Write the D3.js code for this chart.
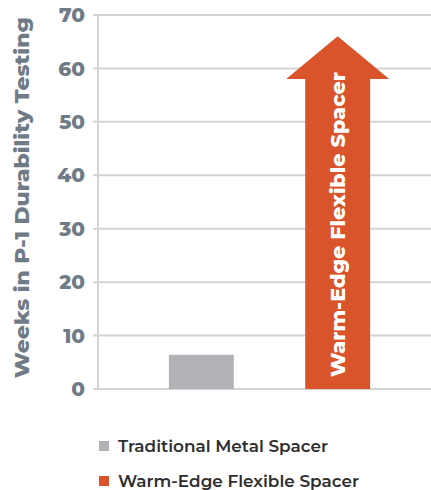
<!DOCTYPE html>
<html><head><meta charset="utf-8">
<script src="https://cdn.jsdelivr.net/npm/d3@7"></script>
<style>
html,body{margin:0;padding:0;background:#fff;}
svg{display:block;}
</style></head>
<body>
<script>
const categories = ["Traditional Metal Spacer", "Warm-Edge Flexible Spacer"];
const values = [6.4, 66];
const arrowHeadBase = 58;
const yTicks = [0, 10, 20, 30, 40, 50, 60, 70];
const colors = ["#b1b2b6", "#d9532b"];
const yLabel = "Weeks in P-1 Durability Testing";

const W = 431, H = 490;
const svg = d3.select("body").append("svg").attr("width", W).attr("height", H);

const x = d3.scaleBand().domain(categories).range([98, 441]).paddingInner(0.524).paddingOuter(0.52);
const y = d3.scaleLinear().domain([0, 70]).range([389, 15]);

const font = "Montserrat, 'Open Sans', Lato, sans-serif";

// gridlines
svg.append("g").selectAll("line").data(yTicks).join("line")
  .attr("x1", 93).attr("x2", W)
  .attr("y1", d => y(d)).attr("y2", d => y(d))
  .attr("stroke", "#d3d3d3").attr("stroke-width", 2);

// axis line
svg.append("line").attr("x1", 98).attr("x2", 98).attr("y1", y(70) - 1).attr("y2", y(0) + 1)
  .attr("stroke", "#d3d3d3").attr("stroke-width", 2);

// tick labels
svg.append("g").selectAll("text").data(yTicks).join("text")
  .attr("x", 85).attr("y", d => y(d)).attr("dy", "0.36em")
  .attr("text-anchor", "end")
  .attr("font-family", font).attr("font-weight", 800).attr("font-size", 20)
  .attr("fill", "#6f7b86")
  .text(d => d);

// y label
svg.append("text")
  .attr("transform", `translate(29,${(17 + 378) / 2}) rotate(-90)`)
  .attr("text-anchor", "middle")
  .attr("font-family", font).attr("font-weight", 800).attr("font-size", 19)
  .attr("fill", "#6f7b86")
  .attr("textLength", 361).attr("lengthAdjust", "spacingAndGlyphs")
  .text(yLabel);

// gray bar
svg.append("rect")
  .attr("x", x(categories[0])).attr("width", x.bandwidth())
  .attr("y", y(values[0])).attr("height", y(0) - y(values[0]))
  .attr("fill", colors[0]);

// arrow
const ax = x(categories[1]), bw = x.bandwidth(), over = 19;
const pts = [
  [ax, y(0)], [ax, y(arrowHeadBase)], [ax - over, y(arrowHeadBase)],
  [ax + bw / 2, y(values[1])],
  [ax + bw + over, y(arrowHeadBase)], [ax + bw, y(arrowHeadBase)], [ax + bw, y(0)]
];
svg.append("path").attr("d", d3.line()(pts) + "Z").attr("fill", colors[1]);

svg.append("text")
  .attr("transform", `translate(${ax + bw / 2 + 7},${(377 + 72) / 2}) rotate(-90)`)
  .attr("text-anchor", "middle")
  .attr("font-family", font).attr("font-weight", 800).attr("font-size", 19)
  .attr("fill", "#ffffff")
  .attr("textLength", 305).attr("lengthAdjust", "spacingAndGlyphs")
  .text(categories[1]);

// legend
const legY = [446, 481];
const legLen = [210, 241];
const leg = svg.append("g").selectAll("g").data(categories).join("g");
leg.append("rect").attr("x", 99).attr("y", (d, i) => legY[i] - 5).attr("width", 10).attr("height", 10)
  .attr("fill", (d, i) => colors[i]);
leg.append("text").attr("x", 118).attr("y", (d, i) => legY[i]).attr("dy", "0.36em")
  .attr("font-family", font).attr("font-weight", 600).attr("font-size", 16)
  .attr("fill", "#2e2e30")
  .attr("textLength", (d, i) => legLen[i]).attr("lengthAdjust", "spacingAndGlyphs")
  .text(d => d);
</script>
</body></html>
